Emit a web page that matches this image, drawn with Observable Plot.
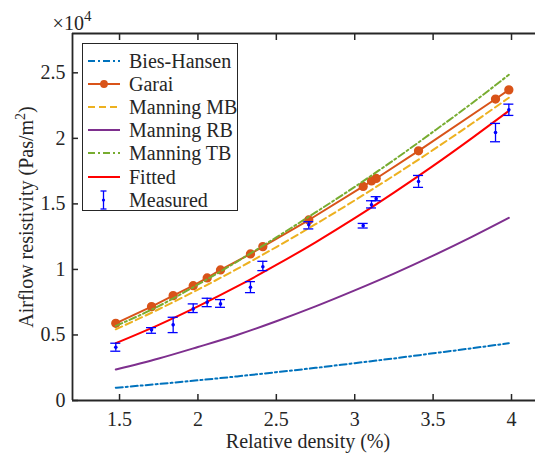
<!DOCTYPE html>
<html><head><meta charset="utf-8">
<script src="https://cdn.jsdelivr.net/npm/d3@7"></script>
<script src="https://cdn.jsdelivr.net/npm/@observablehq/plot@0.6"></script>
<style>
html,body{margin:0;padding:0;background:#fff;}
#wrap{position:relative;width:535px;height:456px;overflow:hidden;font-family:"Liberation Serif","DejaVu Serif",Times,serif;color:#262626;}
#wrap svg{display:block;}
#wrap svg text{font-family:"Liberation Serif","DejaVu Serif",Times,serif;}
#legend{position:absolute;left:82px;top:43px;width:156px;height:168px;border:1.5px solid #262626;background:#fff;box-sizing:border-box;}
.row{position:absolute;left:0;height:22px;display:flex;align-items:center;font-size:20px;line-height:22px;white-space:nowrap;font-family:"Liberation Serif","DejaVu Serif",Times,serif;}
.row svg{margin-left:4px;margin-right:9px;}
</style></head><body><div id="wrap"></div>
<script>
// ---- data (y values in units of 10^4 Pa·s/m²) ----
const measuredX = [1.476,1.704,1.842,1.970,2.059,2.144,2.335,2.414,2.707,3.054,3.107,3.137,3.407,3.898,3.983];
const measuredY = [0.406,0.539,0.577,0.699,0.749,0.737,0.864,1.021,1.341,1.334,1.494,1.540,1.671,2.045,2.218];
const measuredLo = [0.376,0.513,0.518,0.671,0.716,0.711,0.823,0.991,1.309,1.316,1.469,1.524,1.626,1.974,2.175];
const measuredHi = [0.437,0.556,0.635,0.737,0.780,0.770,0.907,1.062,1.364,1.351,1.524,1.555,1.717,2.114,2.261];
const garaiY = [0.589,0.716,0.800,0.876,0.935,0.996,1.118,1.174,1.377,1.633,1.675,1.694,1.905,2.300,2.370];

const curveX = [1.476,1.75,2.0,2.25,2.5,2.75,3.0,3.25,3.5,3.75,3.983];
const biesHansenY = [0.097,0.126,0.154,0.184,0.216,0.249,0.285,0.321,0.360,0.399,0.437];
const manningMBY = [0.543,0.696,0.846,1.004,1.171,1.345,1.527,1.716,1.912,2.115,2.310];
const manningRBY = [0.236,0.320,0.408,0.500,0.605,0.718,0.840,0.968,1.105,1.250,1.393];
const manningTBY = [0.569,0.720,0.885,1.060,1.245,1.435,1.630,1.835,2.050,2.270,2.485];
const fittedY = [0.437,0.577,0.718,0.870,1.034,1.207,1.391,1.586,1.790,2.004,2.210];

const xTicks = [1.5,2,2.5,3,3.5,4];
const yTicks = [0,0.5,1,1.5,2,2.5];
const xDomain = [1.2,4.153];
const yDomain = [0,2.8];

// ---- tables ----
const toRows = ys => curveX.map((x,i)=>({x, y: ys[i]}));
const garai = measuredX.map((x,i)=>({x, y: garaiY[i]}));
const measured = measuredX.map((x,i)=>({x, y: measuredY[i], lo: measuredLo[i], hi: measuredHi[i]}));
const capHalf = 0.032;

const series = [
  {label:"Bies-Hansen", ys: biesHansenY, stroke:"#0072BD", dash:"7,3,2,3"},
  {label:"Garai", stroke:"#D95319", dash:null, marker:true},
  {label:"Manning MB", ys: manningMBY, stroke:"#EDB120", dash:"7,4"},
  {label:"Manning RB", ys: manningRBY, stroke:"#7E2F8E", dash:null},
  {label:"Manning TB", ys: manningTBY, stroke:"#77AC30", dash:"7,3,2,3"},
  {label:"Fitted", ys: fittedY, stroke:"#FF0000", dash:null},
  {label:"Measured", errorbar:true, stroke:"#0000FF"}
];

const fontStack = '"Liberation Serif","DejaVu Serif",Times,serif';
const axisColor = "#262626";
const marks = [
  Plot.ruleY([yDomain[0], yDomain[1]], {stroke: axisColor, strokeWidth: 1.8}),
  Plot.ruleX([xDomain[0]], {stroke: axisColor, strokeWidth: 1.8}),
  Plot.axisX(xTicks, {anchor:"bottom", tickSize:-6, tickPadding:17, label:null, tickFormat:d=>String(d), stroke:axisColor, strokeWidth:1.5, fill:axisColor}),
  Plot.axisX(xTicks, {anchor:"top", tickSize:-6, label:null, tickFormat:()=>"", stroke:axisColor, strokeWidth:1.5}),
  Plot.axisY(yTicks, {anchor:"left", tickSize:-6, tickPadding:13, label:null, tickFormat:d=>String(d), stroke:axisColor, strokeWidth:1.5, fill:axisColor})
];
for (const s of series) {
  if (s.marker) {
    marks.push(Plot.line(garai, {x:"x", y:"y", stroke:s.stroke, strokeWidth:2}));
    marks.push(Plot.dot(garai, {x:"x", y:"y", r:3.9, fill:s.stroke, stroke:s.stroke}));
  } else if (s.errorbar) {
    marks.push(Plot.ruleX(measured, {x:"x", y1:"lo", y2:"hi", stroke:s.stroke, strokeWidth:1.3}));
    marks.push(Plot.ruleY(measured, {y:"lo", x1:d=>d.x-capHalf, x2:d=>d.x+capHalf, stroke:s.stroke, strokeWidth:1.3}));
    marks.push(Plot.ruleY(measured, {y:"hi", x1:d=>d.x-capHalf, x2:d=>d.x+capHalf, stroke:s.stroke, strokeWidth:1.3}));
    marks.push(Plot.dot(measured, {x:"x", y:"y", r:1.8, fill:s.stroke}));
  } else {
    marks.push(Plot.line(toRows(s.ys), {x:"x", y:"y", stroke:s.stroke, strokeWidth:2, strokeDasharray:s.dash, curve:"monotone-x"}));
  }
}

const svg = Plot.plot({
  width:535, height:456,
  marginLeft:72, marginRight:0, marginTop:33, marginBottom:56,
  x:{domain:xDomain},
  y:{domain:yDomain},
  style:{fontFamily:fontStack, fontSize:"20px", color:axisColor, background:"#fff"},
  marks
});

const g = d3.select(svg);
g.append("text").attr("x",308).attr("y",448).attr("text-anchor","middle")
  .attr("fill",axisColor).style("font-size","20px").style("font-family",fontStack).text("Relative density (%)");
const yl = g.append("text").attr("transform","translate(33,217) rotate(-90)").attr("text-anchor","middle")
  .attr("fill",axisColor).style("font-size","20px").style("font-family",fontStack);
yl.append("tspan").text("Airflow resistivity (Pas/m");
yl.append("tspan").attr("dy","-8").style("font-size","14px").text("2");
yl.append("tspan").attr("dy","8").text(")");
const mult = g.append("text").attr("x",72).attr("y",30).attr("fill",axisColor).style("font-size","20px").style("font-family",fontStack);
mult.append("tspan").text("\u00d710");
mult.append("tspan").attr("dy","-9").style("font-size","15px").text("4");

const wrap = document.getElementById("wrap");
wrap.appendChild(svg);

// ---- legend ----
const legend = d3.select(wrap).append("div").attr("id","legend");
series.forEach((s,i)=>{
  const row = legend.append("div").attr("class","row").style("top",(6 + i*23.1)+"px");
  const sw = row.append("svg").attr("width",33).attr("height",22);
  if (s.errorbar) {
    sw.append("line").attr("x1",16.5).attr("x2",16.5).attr("y1",2).attr("y2",20).attr("stroke",s.stroke).attr("stroke-width",1.3);
    sw.append("line").attr("x1",13.5).attr("x2",19.5).attr("y1",2).attr("y2",2).attr("stroke",s.stroke).attr("stroke-width",1.3);
    sw.append("line").attr("x1",13.5).attr("x2",19.5).attr("y1",20).attr("y2",20).attr("stroke",s.stroke).attr("stroke-width",1.3);
    sw.append("circle").attr("cx",16.5).attr("cy",11).attr("r",1.6).attr("fill",s.stroke);
  } else {
    sw.append("line").attr("x1",1).attr("x2",33).attr("y1",11).attr("y2",11).attr("stroke",s.stroke)
      .attr("stroke-width",2).attr("stroke-dasharray",s.dash);
    if (s.marker) sw.append("circle").attr("cx",17).attr("cy",11).attr("r",3.9).attr("fill",s.stroke);
  }
  row.append("span").text(s.label);
});
</script></body></html>
